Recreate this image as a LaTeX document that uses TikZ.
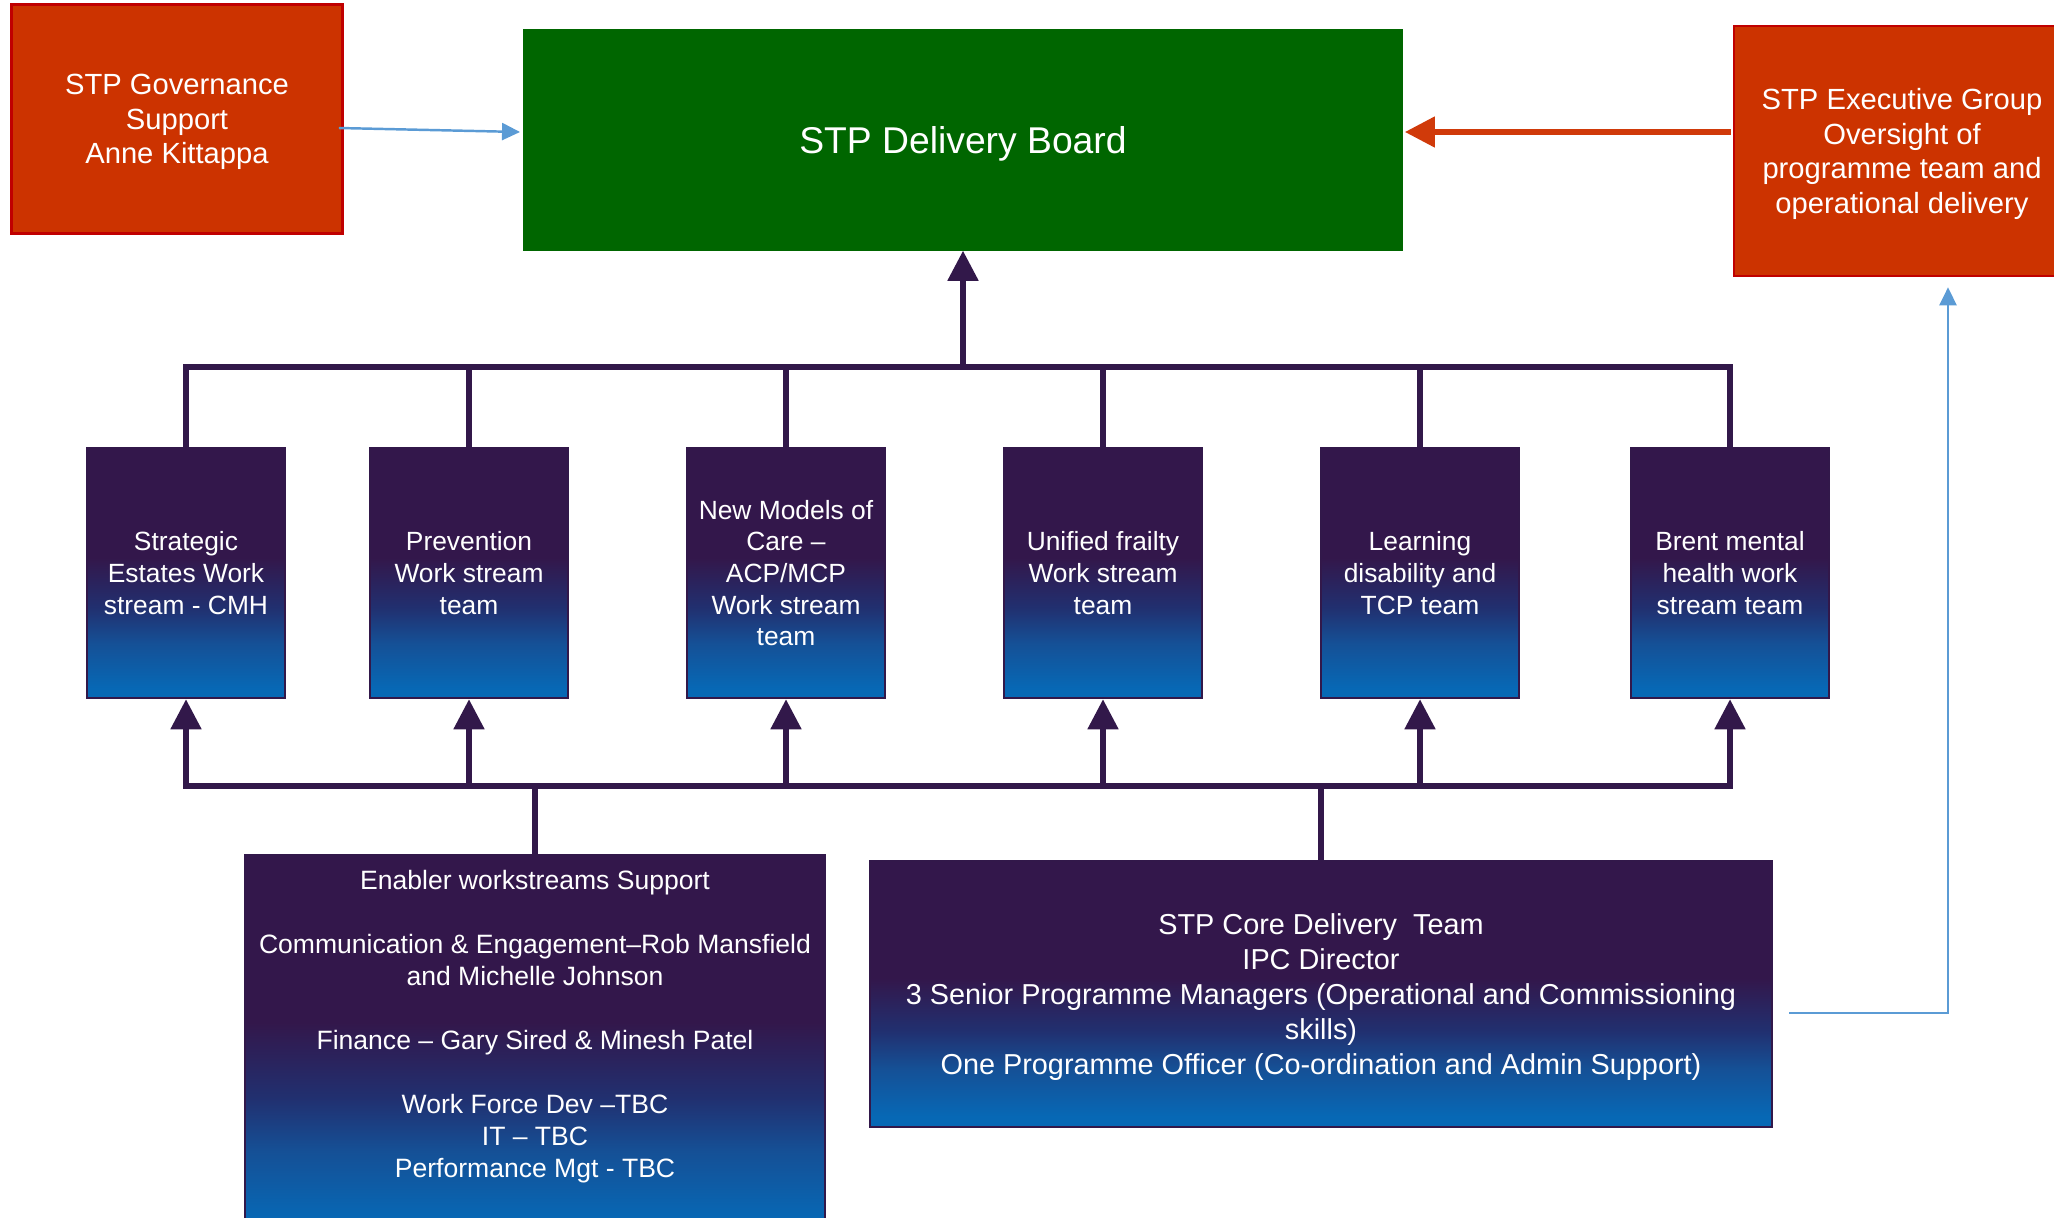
\documentclass[tikz,border=0pt]{standalone}
\usepackage{fontspec}
\setmainfont{Liberation Sans}
\usetikzlibrary{calc,arrows.meta}
\definecolor{stpred}{HTML}{CC3300}
\definecolor{stpredline}{HTML}{C00000}
\definecolor{stparrow}{HTML}{D03A0A}
\definecolor{stpgreen}{HTML}{006600}
\definecolor{stppurple}{HTML}{33174B}
\definecolor{stpmid}{HTML}{213070}
\definecolor{stpdeep}{HTML}{155096}
\definecolor{stpblue}{HTML}{0768B5}
\definecolor{stpline}{HTML}{32184A}
\definecolor{stpsky}{HTML}{5B9BD5}
\pgfdeclareverticalshading{stpfade}{100bp}{color(0bp)=(stpblue); color(27bp)=(stpblue); color(36bp)=(stpdeep); color(43bp)=(stpmid); color(53bp)=(stppurple); color(100bp)=(stppurple)}

\begin{document}
\begin{tikzpicture}[x=0.01cm,y=-0.01cm,
  redbox/.style={draw=stpredline,line width=0.7pt,fill=stpred,text=white,align=center,text depth=0pt,font=\fontsize{8.3}{9.8}\selectfont},
  team/.style={draw=stpline,line width=0.7pt,shade,shading=stpfade,text=white,align=center,inner sep=0pt},
  link/.style={stpline,line width=1.45pt,line cap=rect},
  uplink/.style={link,-{Triangle[length=0.3cm,width=0.3cm]}},
  thin link/.style={stpsky,line width=0.7pt,-{Triangle[length=0.18cm,width=0.17cm]}}]
  \useasboundingbox (0,0) rectangle (2054,1218);
  \clip (0,0) rectangle (2054,1218);

  % top row
  \node[redbox,minimum width=3.31cm,minimum height=2.29cm] (gov) at (177,119) {STP Governance\\Support\\Anne Kittappa};
  \node[draw=stpgreen,fill=stpgreen,text=white,text depth=0pt,minimum width=8.78cm,minimum height=2.2cm,font=\fontsize{10.6}{12}\selectfont] (board) at (963,140) {STP Delivery Board};
  \node[redbox,minimum width=3.36cm,minimum height=2.5cm] (exec) at (1902,151) {STP Executive Group\\Oversight of\\programme team and\\operational delivery};

  % work streams
  \foreach \i/\xpos/\txt in {1/186/{Strategic\\Estates Work\\stream - CMH},
                             2/469/{Prevention\\Work stream\\team},
                             3/786/{New Models of\\Care –\\ACP/MCP\\Work stream\\team},
                             4/1103/{Unified frailty\\Work stream\\team},
                             5/1420/{Learning\\disability and\\TCP team},
                             6/1730/{Brent mental\\health work\\stream team}} {
    \node[team,minimum width=1.98cm,minimum height=2.5cm,font=\fontsize{7.5}{9}\selectfont] (team\i) at (\xpos,573) {\txt};
  }

  % support teams
  \node[team,minimum width=5.8cm,minimum height=3.8cm] (enabler) at (535,1045) {};
  \node[anchor=north,inner sep=0pt,text=white,align=center,font=\fontsize{7.55}{9.1}\selectfont] (enablertext) at (535,870)
    {Enabler workstreams Support\\[9.1pt]Communication \& Engagement–Rob Mansfield\\and Michelle Johnson\\[9.1pt]Finance – Gary Sired \& Minesh Patel\\[9.1pt]Work Force Dev –TBC\\IT – TBC\\Performance Mgt - TBC};
  \node[team,text depth=0pt,minimum width=9.01cm,minimum height=2.66cm,font=\fontsize{8.2}{10}\selectfont] (core) at (1321,994)
    {STP Core Delivery~ Team\\IPC Director\\3 Senior Programme Managers (Operational and Commissioning\\skills)\\One Programme Officer (Co-ordination and Admin Support)};

  % connectors
  \coordinate (topbus) at (963,367);
  \coordinate (lowbus) at (963,786);
  \draw[link] (team1.north) |- (topbus) -| (team6.north);
  \foreach \i in {2,...,5} \draw[link] (team\i.north) -- (team\i.north |- topbus);
  \draw[uplink] (topbus) -- (board.south);
  \draw[link] (team1.south |- lowbus) -- (team6.south |- lowbus);
  \foreach \i in {1,...,6} \draw[uplink] (team\i.south |- lowbus) -- (team\i.south);
  \draw[link] (enabler.north) -- (enabler.north |- lowbus);
  \draw[link] (core.north) -- (core.north |- lowbus);

  \draw[thin link] ($(gov.east)+(-5,9)$) -- ($(board.west)+(-3,-8)$);
  \draw[stparrow,line width=1.45pt,-{Triangle[length=0.3cm,width=0.3cm]}] ($(exec.west)+(-2,-19)$) -- ($(board.east)+(2,-8)$);
  \draw[thin link] ($(core.east)+(16,19)$) -| ($(exec.south)+(46,10)$);
\end{tikzpicture}
\end{document}
